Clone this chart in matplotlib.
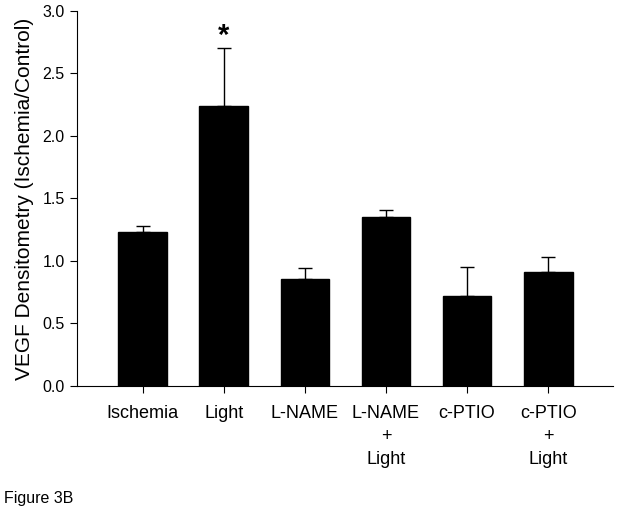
import matplotlib
matplotlib.use("Agg")
import matplotlib.pyplot as plt
import numpy as np

categories = ["Ischemia", "Light", "L-NAME", "L-NAME\n+\nLight", "c-PTIO", "c-PTIO\n+\nLight"]
values = [1.234, 2.24, 0.858, 1.349, 0.722, 0.912]
errors = [0.048, 0.46, 0.082, 0.059, 0.232, 0.118]
yticks = [0.0, 0.5, 1.0, 1.5, 2.0, 2.5, 3.0]

plt.rcParams['font.family'] = ['Liberation Sans', 'DejaVu Sans']

fig = plt.figure(figsize=(6.18, 5.12), dpi=100)
ax = fig.add_axes([0.1246, 0.246, 0.8674, 0.733])

x = np.arange(len(categories))
ax.bar(x, values, width=0.6, color='black', edgecolor='black', zorder=2)
ax.errorbar(x, values, yerr=[np.zeros(len(errors)), errors], fmt='none',
            ecolor='black', elinewidth=1, capsize=5, capthick=1, zorder=1)

ax.text(x[1], values[1] + errors[1] + 0.1, '*', ha='center', va='center',
        fontsize=21, fontweight='bold')

ax.set_xlim(-0.81, 5.8)
ax.set_ylim(0, 3.0)
ax.set_yticks(yticks)
ax.set_yticklabels([f"{t:.1f}" for t in yticks], fontsize=11.5)
ax.set_xticks(x)
ax.set_xticklabels(categories, fontsize=13, linespacing=1.45, ha='center')
ax.tick_params(axis='both', direction='out', length=5, width=0.8, colors='black')
ax.tick_params(axis='x', pad=9)
ax.tick_params(axis='y', pad=4)
for s in ['top', 'right']:
    ax.spines[s].set_visible(False)
for s in ['left', 'bottom']:
    ax.spines[s].set_linewidth(0.8)

ax.set_ylabel("VEGF Densitometry (Ischemia/Control)", fontsize=15, labelpad=6)

fig.text(0.006, 0.027, "Figure 3B", fontsize=11.5, ha='left', va='center')

fig.savefig("out.png", dpi=100)
